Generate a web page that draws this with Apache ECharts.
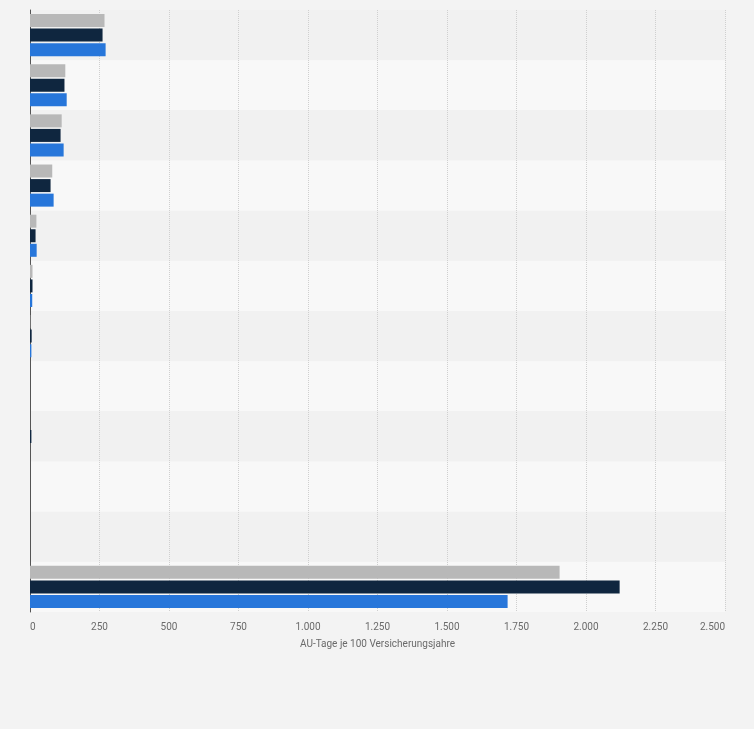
<!DOCTYPE html>
<html>
<head>
<meta charset="utf-8">
<script src="https://cdn.jsdelivr.net/npm/echarts@6/dist/echarts.min.js"></script>
<style>
  html, body { margin: 0; padding: 0; background: #f3f3f3; }
  #chart { width: 754px; height: 729px; }
</style>
</head>
<body>
<div id="chart"></div>
<script>
// Kategorien (Beschriftung im Original nicht sichtbar)
const categories = ['K1', 'K2', 'K3', 'K4', 'K5', 'K6', 'K7', 'K8', 'K9', 'K10', 'K11', 'Insgesamt']
const seriesNames = ['Reihe 1', 'Reihe 2', 'Reihe 3']
const grayValues = [268, 127, 114, 80, 23, 9, 1, 0, 0, 0, 0, 1905]
const navyValues = [261, 124, 110, 74, 20, 9, 6, 0, 5, 0, 0, 2121]
const blueValues = [272, 132, 121, 85, 24, 8, 5, 0, 0, 0, 0, 1718]
const xTicks = { min: 0, max: 2500, interval: 250 }

// Tausenderpunkt wie im Original
function fmt(v) {
  return String(v).replace(/\B(?=(\d{3})+(?!\d))/g, '.')
}

const chart = echarts.init(document.getElementById('chart'))

function bar(name, data, color) {
  return {
    name: name,
    type: 'bar',
    data: data,
    barWidth: 13,
    barGap: '12%',
    itemStyle: { color: color },
    animation: false
  }
}

let option = {
  backgroundColor: '#f3f3f3',
  textStyle: { fontFamily: 'Roboto, "Liberation Sans", sans-serif' },
  grid: { left: 30, right: 29, top: 10, bottom: 117 },
  xAxis: {
    type: 'value',
    min: xTicks.min,
    max: xTicks.max,
    interval: xTicks.interval,
    name: 'AU-Tage je 100 Versicherungsjahre',
    nameLocation: 'middle',
    nameGap: 27,
    nameTextStyle: { color: '#6a6a6a', fontSize: 10 },
    axisLine: { show: false },
    axisTick: { show: false },
    axisLabel: {
      color: '#6a6a6a',
      fontSize: 10,
      margin: 10,
      formatter: fmt,
      alignMinLabel: 'left',
      alignMaxLabel: 'right'
    },
    splitLine: { show: true, lineStyle: { color: '#cfcfcf', type: 'dotted', width: 1 } }
  },
  yAxis: {
    type: 'category',
    data: categories,
    inverse: true,
    axisLine: { show: true, lineStyle: { color: '#555', width: 1 } },
    axisTick: { show: false },
    axisLabel: { show: false },
    splitArea: { show: true, areaStyle: { color: ['#f1f1f1', '#f8f8f8'] } }
  },
  series: [
    bar(seriesNames[0], grayValues, '#b8b8b8'),
    bar(seriesNames[1], navyValues, '#0f263f'),
    bar(seriesNames[2], blueValues, '#2776da')
  ]
}

chart.setOption(option)
</script>
</body>
</html>
